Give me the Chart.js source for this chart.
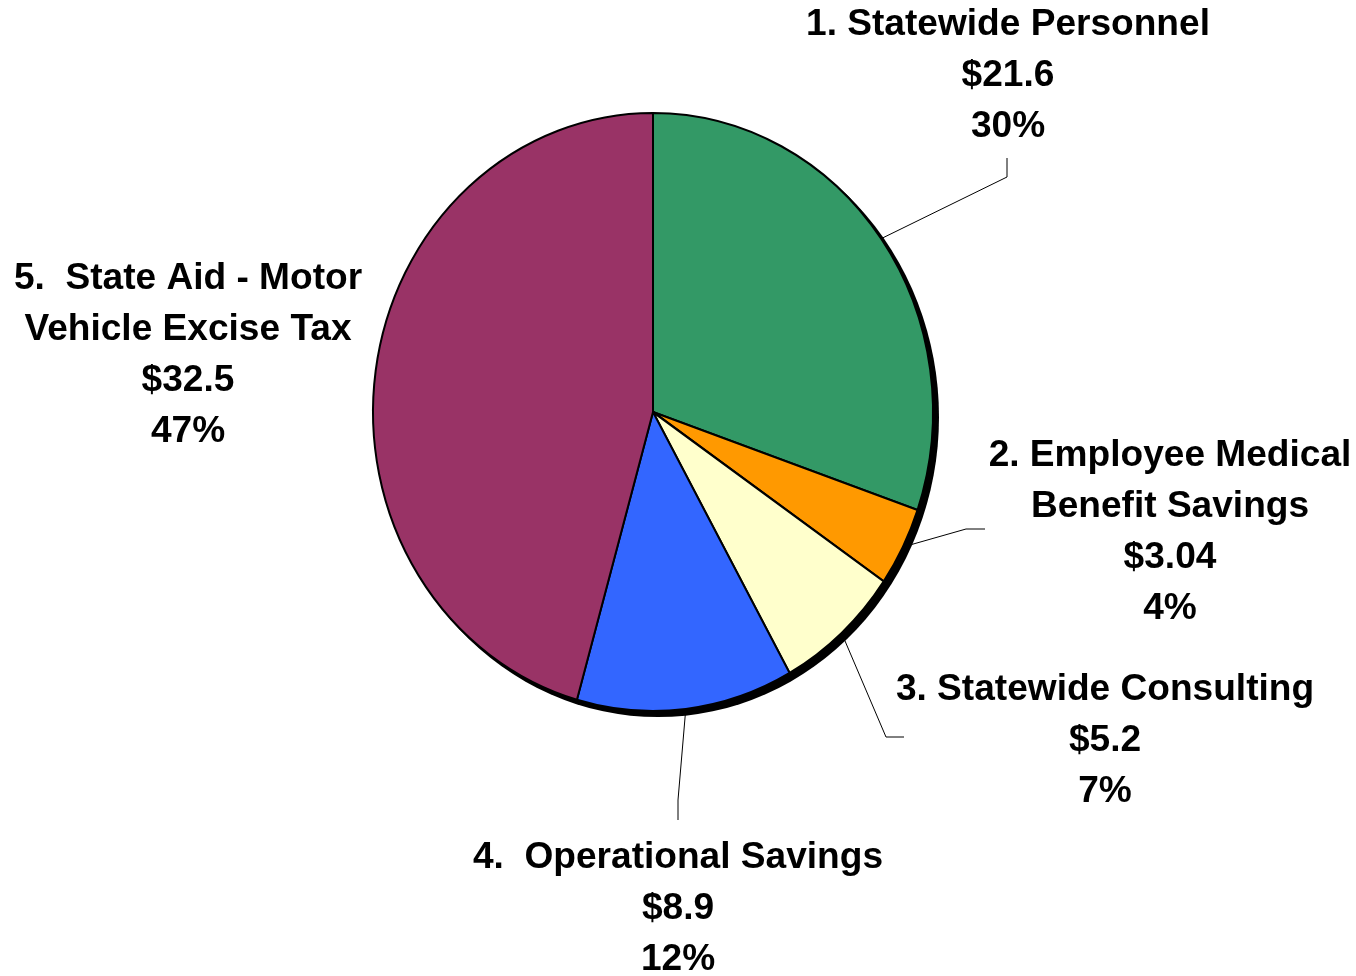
<!DOCTYPE html>
<html>
<head>
<meta charset="utf-8">
<title>Savings breakdown</title>
<script src="https://cdn.jsdelivr.net/npm/chart.js@4.4.0/dist/chart.umd.min.js"></script>
<style>
  html, body { margin: 0; padding: 0; background: #fff; }
  #wrap { position: relative; width: 1356px; height: 976px; }
</style>
</head>
<body>
<div id="wrap"><canvas id="pieChart"></canvas></div>
<script>
// data
const categories = [
  '1. Statewide Personnel',
  '2. Employee Medical\nBenefit Savings',
  '3. Statewide Consulting',
  '4.  Operational Savings',
  '5.  State Aid - Motor\nVehicle Excise Tax'
];
const amounts = [21.6, 3.04, 5.2, 8.9, 32.5];
const percentLabels = ['30%', '4%', '7%', '12%', '47%'];
const sliceColors = ['#339966', '#FF9900', '#FFFFCC', '#3366FF', '#993366'];

// label placement (text centre x, first line middle y, leader elbow points)
const labelLayout = [
  { x: 1008, y: 25,  leader: [[1007, 177], [1007, 158]] },
  { x: 1170, y: 456, leader: [[966, 529], [985, 529]] },
  { x: 1105, y: 690, leader: [[886, 737], [904, 737]] },
  { x: 678,  y: 858, leader: [[678, 800], [678, 820]] },
  { x: 188,  y: 279, leader: null }
];
const stretchY = 1.068;   // pie is a bit taller than wide
const textStretchX = 1.03;
const lineHeight = 51;

const ovalPie = {
  id: 'ovalPie',
  beforeDatasetsDraw(chart) {
    const ctx = chart.ctx;
    const arc = chart.getDatasetMeta(0).data[0];
    const cx = arc.x, cy = arc.y;
    ctx.save();
    ctx.translate(cx, cy);
    ctx.scale(1, stretchY);
    ctx.translate(-cx, -cy);
    // drop shadow to the lower right
    ctx.beginPath();
    ctx.arc(cx + 5, cy + 5 / stretchY, arc.outerRadius + 1, 0, Math.PI * 2);
    ctx.fillStyle = '#000';
    ctx.fill();
  },
  afterDatasetsDraw(chart) {
    const ctx = chart.ctx;
    ctx.restore();

    const arcs = chart.getDatasetMeta(0).data;
    ctx.save();
    ctx.strokeStyle = '#000';
    ctx.lineWidth = 1;
    arcs.forEach((arc, i) => {
      const lay = labelLayout[i];
      if (!lay.leader) return;
      const mid = (arc.startAngle + arc.endAngle) / 2;
      const sx = arc.x + arc.outerRadius * Math.cos(mid);
      const sy = arc.y + arc.outerRadius * Math.sin(mid) * stretchY;
      ctx.beginPath();
      ctx.moveTo(sx, sy);
      lay.leader.forEach(p => ctx.lineTo(p[0], p[1]));
      ctx.stroke();
    });

    ctx.fillStyle = '#000';
    ctx.font = 'bold 36px "Liberation Sans", Arial, sans-serif';
    ctx.textAlign = 'center';
    ctx.textBaseline = 'middle';
    categories.forEach((name, i) => {
      const lay = labelLayout[i];
      const lines = name.split('\n').concat(['$' + amounts[i], percentLabels[i]]);
      lines.forEach((t, j) => {
        ctx.save();
        ctx.translate(lay.x, lay.y + j * lineHeight);
        ctx.scale(textStretchX, 1);
        ctx.fillText(t, 0, 0);
        ctx.restore();
      });
    });
    ctx.restore();
  }
};

const ctx = document.getElementById('pieChart').getContext('2d');
const pieChart = new Chart(ctx, {
  type: 'pie',
  data: {
    labels: categories,
    datasets: [{
      data: amounts,
      backgroundColor: sliceColors,
      borderColor: '#000',
      borderWidth: 2,
      hoverOffset: 0,
      clip: false
    }]
  },
  options: {
    responsive: true,
    maintainAspectRatio: false,
    animation: false,
    radius: 280,
    layout: {
      autoPadding: false,
      padding: { left: 373, right: 423, top: 132, bottom: 284 }
    },
    plugins: {
      legend: { display: false },
      tooltip: { enabled: false }
    }
  },
  plugins: [ovalPie]
});
</script>
</body>
</html>
